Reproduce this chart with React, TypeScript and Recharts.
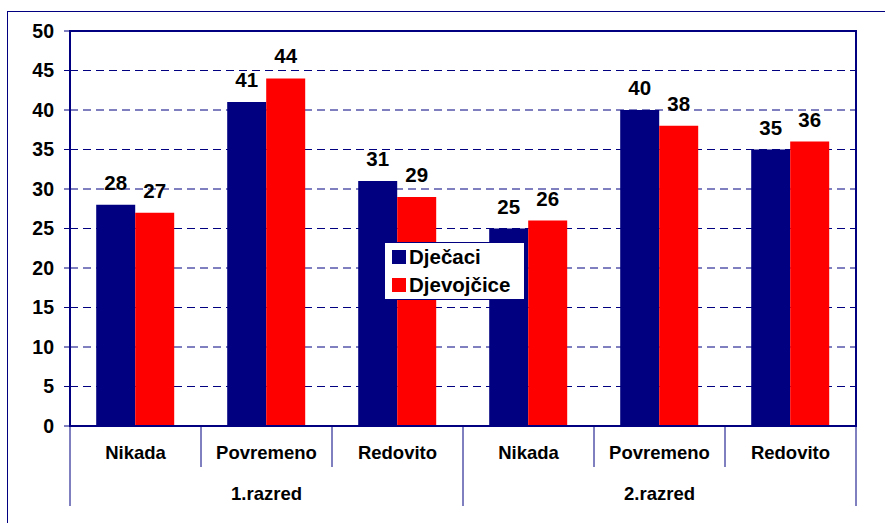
import React from 'react';
import { BarChart, Bar, XAxis, YAxis, CartesianGrid, Legend, LabelList, ReferenceArea } from 'recharts';

const categories = ['Nikada', 'Povremeno', 'Redovito', 'Nikada', 'Povremeno', 'Redovito'];
const groups = ['1.razred', '1.razred', '1.razred', '2.razred', '2.razred', '2.razred'];
const djecaci = [28, 41, 31, 25, 40, 35];
const djevojcice = [27, 44, 29, 26, 38, 36];
const yTicks = [0, 5, 10, 15, 20, 25, 30, 35, 40, 45, 50];

const NAVY = '#000080';
const RED = '#FF0000';
const FONT = '"Liberation Sans", Arial, sans-serif';

const WIDTH = 885;
const HEIGHT = 523;
const MARGIN = { top: 31, right: 29, bottom: 17, left: 10 };
const Y_AXIS_W = 60;
const PLOT_W = WIDTH - MARGIN.left - MARGIN.right - Y_AXIS_W;

const data = categories.map((c, i) => ({
  category: c,
  group: groups[i],
  Djecaci: djecaci[i],
  Djevojcice: djevojcice[i],
}));

const labelStyle = { fill: '#000', fontSize: 20.5, fontWeight: 'bold', fontFamily: FONT };

const CategoryTick = (props: any) => {
  const { x, y, payload, index } = props;
  const half = PLOT_W / categories.length / 2;
  const endsGroup = index === categories.length - 1 || groups[index + 1] !== groups[index];
  // group label sits under the middle category of each group
  const groupIdx = groups.map((g, i) => i).filter((i) => groups[i] === groups[index]);
  const isMiddle = groupIdx[Math.floor(groupIdx.length / 2)] === index;
  return (
    <g>
      {index === 0 && (
        <line x1={x - half} x2={x - half} y1={y} y2={y + 80} stroke={NAVY} strokeWidth={1} />
      )}
      <line x1={x + half} x2={x + half} y1={y} y2={endsGroup ? y + 80 : y + 41} stroke={NAVY} strokeWidth={1} />
      <text x={x} y={y + 33} textAnchor="middle" fontSize={18.5} fontWeight="bold" fill="#000" fontFamily={FONT}>
        {payload.value}
      </text>
      {isMiddle && (
        <text x={x} y={y + 74} textAnchor="middle" fontSize={18.5} fontWeight="bold" fill="#000" fontFamily={FONT}>
          {groups[index]}
        </text>
      )}
    </g>
  );
};

const LegendBox = () => (
  <div
    style={{
      background: '#fff',
      border: `1px solid ${NAVY}`,
      width: 139,
      height: 56,
      boxSizing: 'content-box',
      fontFamily: FONT,
      fontWeight: 'bold',
      fontSize: 20.5,
      color: '#000',
    }}
  >
    {[
      { name: 'Dječaci', color: NAVY },
      { name: 'Djevojčice', color: RED },
    ].map((it) => (
      <div key={it.name} style={{ display: 'flex', alignItems: 'center', height: 28, paddingLeft: 7 }}>
        <span style={{ display: 'inline-block', width: 14, height: 14, background: it.color, marginRight: 3 }} />
        <span>{it.name}</span>
      </div>
    ))}
  </div>
);

export default function App() {
  return (
    <div style={{ position: 'absolute', left: 0, top: 0, width: WIDTH, height: HEIGHT, overflow: 'hidden', background: '#fff', fontFamily: FONT }}>
      <div style={{ position: 'absolute', left: 7, top: 11, width: 950, height: 600, border: `1px solid ${NAVY}` }} />
      <BarChart
        width={WIDTH}
        height={HEIGHT}
        data={data}
        margin={MARGIN}
        barCategoryGap="20%"
        barGap={0}
        style={{ position: 'absolute', left: 0, top: 0 }}
      >
        <CartesianGrid vertical={false} stroke={NAVY} strokeDasharray="8 5" />
        <ReferenceArea y1={0} y2={50} fill="none" stroke={NAVY} strokeWidth={2} ifOverflow="visible" />
        <XAxis
          dataKey="category"
          height={80}
          axisLine={{ stroke: NAVY, strokeWidth: 2 }}
          tickLine={false}
          tickSize={0}
          tickMargin={0}
          interval={0}
          tick={<CategoryTick />}
        />
        <YAxis
          width={Y_AXIS_W}
          domain={[0, 50]}
          ticks={yTicks}
          interval={0}
          axisLine={{ stroke: NAVY, strokeWidth: 2 }}
          tickLine={{ stroke: NAVY }}
          tickSize={6}
          tickMargin={10}
          tick={{ fill: '#000', fontSize: 19.5, fontWeight: 'bold', fontFamily: FONT }}
        />
        <Legend
          layout="vertical"
          align="center"
          verticalAlign="middle"
          content={<LegendBox />}
          wrapperStyle={{ left: 384, top: 242, width: 141 }}
        />
        <Bar dataKey="Djecaci" name="Dječaci" fill={NAVY} isAnimationActive={false}>
          <LabelList dataKey="Djecaci" position="top" offset={15} style={labelStyle} />
        </Bar>
        <Bar dataKey="Djevojcice" name="Djevojčice" fill={RED} isAnimationActive={false}>
          <LabelList dataKey="Djevojcice" position="top" offset={15} style={labelStyle} />
        </Bar>
      </BarChart>
    </div>
  );
}
